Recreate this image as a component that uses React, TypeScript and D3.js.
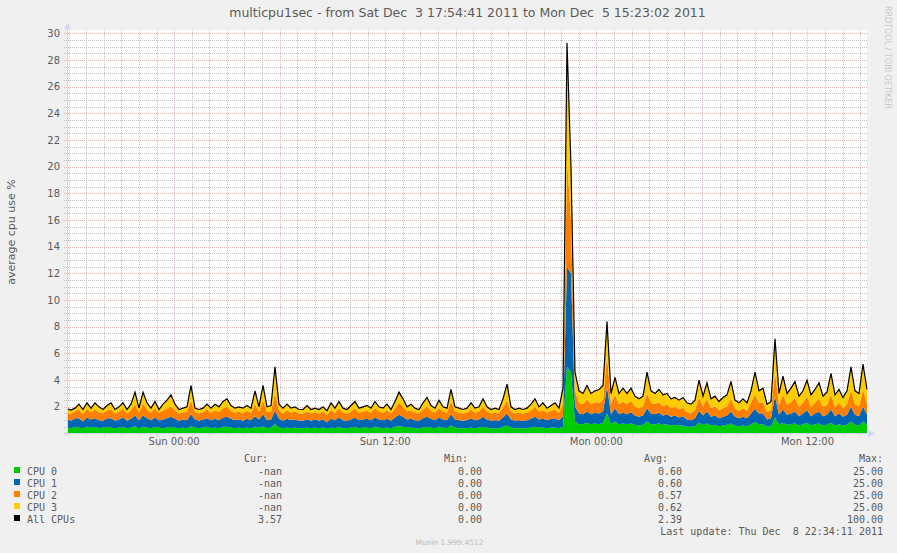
import React from 'react';
import * as d3 from 'd3';

const W = 897;
const H = 553;

const startTime = Date.UTC(2011, 11, 3, 17, 54, 41);
const endTime = Date.UTC(2011, 11, 5, 15, 23, 2);
const titleText = 'multicpu1sec - from Sat Dec  3 17:54:41 2011 to Mon Dec  5 15:23:02 2011';
const yAxisLabel = 'average cpu use %';
const watermark = 'RRDTOOL / TOBI OETIKER';
const versionText = 'Munin 1.999.4512';
const lastUpdate = 'Last update: Thu Dec  8 22:34:11 2011';

// Total ("All CPUs") line, evenly sampled over the time range
const allCpus = [
  1.85, 1.75, 1.9, 2.2, 1.8, 2.3, 1.9, 2.3, 2.0, 1.8,
  2.1, 2.3, 1.8, 2.0, 2.3, 1.8, 2.2, 3.1, 1.9, 3.1,
  2.3, 1.9, 2.4, 1.8, 2.2, 2.5, 2.9, 2.2, 1.8, 1.9,
  2.0, 3.6, 1.9, 1.8, 1.9, 2.2, 1.9, 2.2, 2.0, 2.4,
  2.6, 2.1, 1.9, 2.0, 1.9, 2.1, 1.9, 3.2, 2.0, 3.6,
  2.0, 2.1, 5.0, 2.2, 1.9, 2.2, 1.9, 2.0, 1.8, 1.8,
  2.1, 1.8, 1.9, 1.8, 2.0, 1.7, 2.3, 1.9, 2.4, 1.9,
  1.8, 2.1, 2.4, 1.9, 2.0, 2.1, 1.9, 2.4, 2.0, 1.9,
  2.2, 1.8, 2.4, 3.1, 2.6, 2.0, 2.2, 1.9, 1.8, 2.3,
  2.7, 2.1, 1.9, 2.5, 2.0, 1.9, 3.3, 2.0, 1.9, 1.8,
  1.9, 2.3, 1.9, 2.0, 2.6, 2.0, 1.8, 1.9, 1.8, 2.6,
  3.7, 2.0, 1.8, 1.9, 1.8, 1.9, 2.2, 2.6, 2.0, 2.3,
  1.9, 2.1, 2.3, 1.9, 3.4, 29.3, 20.0, 4.6, 3.2, 3.0,
  3.6, 3.0, 3.2, 3.3, 3.6, 8.4, 3.0, 4.2, 3.0, 3.4,
  3.0, 3.4, 2.8, 2.6, 2.8, 4.6, 3.2, 3.0, 3.3, 2.9,
  3.0, 2.6, 2.7, 2.5, 2.7, 2.3, 2.2, 2.5, 4.0, 2.8,
  3.8, 2.6, 2.8, 2.4, 2.7, 2.9, 3.9, 2.5, 2.3, 2.6,
  2.3, 3.2, 4.6, 3.2, 3.4, 2.2, 2.4, 7.1, 3.0, 4.3,
  3.0, 3.4, 3.9, 2.8, 3.2, 4.0, 2.9, 3.3, 3.8, 2.8,
  3.1, 4.5, 2.9, 3.3, 2.7, 3.2, 5.0, 3.2, 3.0, 5.2,
  3.3,
];

const cpu0 = [
  0.45, 0.4, 0.5, 0.45, 0.4, 0.5, 0.45, 0.5, 0.4, 0.45,
  0.5, 0.45, 0.4, 0.45, 0.5, 0.4, 0.45, 0.55, 0.4, 0.5,
  0.45, 0.4, 0.5, 0.45, 0.4, 0.45, 0.5, 0.45, 0.4, 0.45,
  0.4, 0.55, 0.45, 0.4, 0.45, 0.5, 0.4, 0.45, 0.4, 0.5,
  0.5, 0.45, 0.4, 0.45, 0.4, 0.45, 0.4, 0.5, 0.45, 0.55,
  0.4, 0.45, 0.7, 0.45, 0.4, 0.45, 0.4, 0.45, 0.4, 0.4,
  0.45, 0.4, 0.45, 0.4, 0.45, 0.35, 0.45, 0.4, 0.5, 0.4,
  0.4, 0.45, 0.5, 0.4, 0.45, 0.45, 0.4, 0.5, 0.45, 0.4,
  0.45, 0.4, 0.5, 0.55, 0.5, 0.45, 0.45, 0.4, 0.4, 0.45,
  0.5, 0.45, 0.4, 0.5, 0.45, 0.4, 0.6, 0.45, 0.4, 0.4,
  0.4, 0.45, 0.4, 0.45, 0.5, 0.45, 0.4, 0.4, 0.4, 0.5,
  0.6, 0.45, 0.4, 0.4, 0.4, 0.4, 0.45, 0.5, 0.45, 0.45,
  0.4, 0.45, 0.45, 0.4, 0.5, 5.0, 4.6, 0.9, 0.7, 0.7,
  0.8, 0.7, 0.75, 0.7, 0.8, 1.5, 0.7, 0.9, 0.7, 0.75,
  0.7, 0.75, 0.65, 0.6, 0.65, 0.9, 0.7, 0.7, 0.75, 0.65,
  0.7, 0.6, 0.65, 0.6, 0.6, 0.5, 0.5, 0.55, 0.8, 0.65,
  0.75, 0.6, 0.65, 0.55, 0.6, 0.65, 0.75, 0.6, 0.55, 0.6,
  0.55, 0.7, 0.85, 0.7, 0.7, 0.5, 0.55, 1.2, 0.65, 0.8,
  0.65, 0.7, 0.75, 0.6, 0.7, 0.8, 0.6, 0.7, 0.75, 0.6,
  0.65, 0.8, 0.6, 0.7, 0.6, 0.65, 0.9, 0.65, 0.6, 0.9,
  0.65,
];

const cpu1 = [
  0.6, 0.55, 0.65, 0.7, 0.5, 0.7, 0.6, 0.65, 0.6, 0.5,
  0.65, 0.7, 0.55, 0.6, 0.7, 0.55, 0.65, 0.8, 0.6, 0.85,
  0.7, 0.6, 0.7, 0.55, 0.65, 0.7, 0.75, 0.65, 0.55, 0.6,
  0.6, 0.9, 0.6, 0.55, 0.6, 0.65, 0.6, 0.65, 0.6, 0.7,
  0.75, 0.65, 0.6, 0.6, 0.55, 0.65, 0.6, 0.8, 0.6, 0.9,
  0.6, 0.6, 1.0, 0.65, 0.55, 0.65, 0.6, 0.6, 0.55, 0.55,
  0.6, 0.55, 0.6, 0.55, 0.6, 0.5, 0.65, 0.6, 0.7, 0.6,
  0.55, 0.6, 0.7, 0.6, 0.6, 0.65, 0.6, 0.7, 0.6, 0.6,
  0.65, 0.55, 0.7, 0.85, 0.75, 0.6, 0.65, 0.6, 0.55, 0.7,
  0.75, 0.65, 0.6, 0.7, 0.6, 0.6, 0.85, 0.6, 0.6, 0.55,
  0.6, 0.7, 0.6, 0.6, 0.75, 0.6, 0.55, 0.6, 0.55, 0.7,
  0.9, 0.6, 0.55, 0.6, 0.55, 0.6, 0.65, 0.75, 0.6, 0.65,
  0.6, 0.65, 0.7, 0.6, 0.8, 7.5, 7.4, 1.1, 0.8, 0.75,
  0.85, 0.75, 0.8, 0.8, 0.85, 2.0, 0.75, 1.0, 0.75, 0.8,
  0.75, 0.85, 0.7, 0.65, 0.7, 1.0, 0.8, 0.75, 0.8, 0.7,
  0.75, 0.65, 0.7, 0.6, 0.7, 0.55, 0.5, 0.6, 0.9, 0.7,
  0.9, 0.65, 0.7, 0.6, 0.65, 0.7, 0.9, 0.65, 0.6, 0.65,
  0.6, 0.8, 1.0, 0.8, 0.8, 0.55, 0.6, 1.6, 0.75, 1.0,
  0.75, 0.8, 0.9, 0.7, 0.8, 0.95, 0.7, 0.8, 0.9, 0.7,
  0.75, 1.0, 0.7, 0.8, 0.65, 0.75, 1.1, 0.75, 0.7, 1.1,
  0.8,
];

const cpu2 = [
  0.55, 0.5, 0.55, 0.65, 0.55, 0.65, 0.55, 0.65, 0.6, 0.55,
  0.6, 0.65, 0.55, 0.6, 0.65, 0.55, 0.65, 0.85, 0.55, 0.9,
  0.65, 0.55, 0.7, 0.55, 0.65, 0.7, 0.8, 0.65, 0.55, 0.55,
  0.6, 1.0, 0.55, 0.55, 0.55, 0.65, 0.55, 0.65, 0.6, 0.7,
  0.75, 0.6, 0.55, 0.6, 0.55, 0.6, 0.55, 0.9, 0.6, 1.0,
  0.6, 0.6, 1.3, 0.65, 0.55, 0.65, 0.55, 0.6, 0.55, 0.55,
  0.6, 0.55, 0.55, 0.55, 0.6, 0.55, 0.65, 0.55, 0.7, 0.55,
  0.55, 0.6, 0.7, 0.55, 0.6, 0.6, 0.55, 0.7, 0.6, 0.55,
  0.65, 0.55, 0.7, 0.9, 0.75, 0.6, 0.65, 0.55, 0.55, 0.65,
  0.8, 0.6, 0.55, 0.7, 0.6, 0.55, 0.95, 0.6, 0.55, 0.55,
  0.55, 0.65, 0.55, 0.6, 0.75, 0.6, 0.55, 0.55, 0.55, 0.75,
  1.0, 0.6, 0.55, 0.55, 0.55, 0.55, 0.65, 0.75, 0.6, 0.65,
  0.55, 0.6, 0.65, 0.55, 0.9, 8.0, 4.0, 1.2, 0.8, 0.75,
  0.9, 0.75, 0.8, 0.8, 0.9, 2.4, 0.75, 1.0, 0.75, 0.85,
  0.75, 0.85, 0.7, 0.65, 0.7, 1.1, 0.8, 0.75, 0.8, 0.7,
  0.75, 0.65, 0.65, 0.6, 0.65, 0.55, 0.55, 0.6, 1.0, 0.7,
  0.95, 0.65, 0.7, 0.6, 0.65, 0.7, 0.95, 0.6, 0.55, 0.65,
  0.55, 0.8, 1.1, 0.8, 0.85, 0.55, 0.6, 1.8, 0.75, 1.1,
  0.75, 0.85, 1.0, 0.7, 0.8, 1.0, 0.7, 0.8, 0.95, 0.7,
  0.75, 1.1, 0.7, 0.8, 0.65, 0.8, 1.2, 0.8, 0.75, 1.3,
  0.8,
];

const seriesNames = ['CPU 0', 'CPU 1', 'CPU 2', 'CPU 3', 'All CPUs'];
const seriesColors = ['#00CC00', '#0066B3', '#FF8000', '#FFCC00', '#000000'];
const curValues = ['-nan', '-nan', '-nan', '-nan', '3.57'];
const minValues = ['0.00', '0.00', '0.00', '0.00', '0.00'];
const avgValues = ['0.60', '0.60', '0.57', '0.62', '2.39'];
const maxValues = ['25.00', '25.00', '25.00', '25.00', '100.00'];
const legendHeaders = ['Cur:', 'Min:', 'Avg:', 'Max:'];

const FONT = '"DejaVu Sans", Verdana, sans-serif';
const MONO = '"DejaVu Sans Mono", monospace';
const TEXT = '#5a5a5a';

export default function App() {
  const left = 67;
  const right = 867;
  const top = 30;
  const bottom = 433.5;

  const x = d3.scaleUtc().domain([startTime, endTime]).range([left, right]);
  const y = d3.scaleLinear().domain([0, 30.25]).range([bottom, top]);

  const n = allCpus.length;
  const step = (endTime - startTime) / (n - 1);
  const rows = allCpus.map((v, i) => ({
    t: startTime + i * step,
    c0: cpu0[i],
    c1: cpu1[i],
    c2: cpu2[i],
    all: v,
  }));

  const stacked = d3.stack<any>().keys(['c0', 'c1', 'c2'])(rows);
  const area = d3
    .area<any>()
    .x((d) => x(d.data.t))
    .y0((d) => y(d[0]))
    .y1((d) => y(d[1]));

  const topArea = d3
    .area<any>()
    .x((d) => x(d.t))
    .y0((d) => y(d.c0 + d.c1 + d.c2))
    .y1((d) => y(Math.max(d.all, d.c0 + d.c1 + d.c2)));

  const line = d3
    .line<any>()
    .x((d) => x(d.t))
    .y((d) => y(d.all));

  const hours = d3.utcHour.every(1)!.range(new Date(startTime), new Date(endTime + 1));
  const minorV = hours.filter((h) => h.getUTCHours() % 6 !== 0);
  const majorV = hours.filter((h) => h.getUTCHours() % 6 === 0);
  const labelV = hours.filter((h) => h.getUTCHours() % 12 === 0);
  const fmt = d3.utcFormat('%a %H:%M');

  const halfSteps = d3.range(1, 61).map((k) => k * 0.5);
  const minorH = halfSteps.filter((v) => v % 2 !== 0);
  const majorH = halfSteps.filter((v) => v % 2 === 0);

  const px = (v: number) => Math.round(v) + 0.5;

  const legendX = [268, 468, 668, 883];
  const valueX = [282, 482, 682, 883];
  const valueCols = [curValues, minValues, avgValues, maxValues];

  const minorColor = '#c2c2c2';
  const majorColor = '#e9b3b3';

  return (
    <svg
      width={W}
      height={H}
      style={{ position: 'absolute', left: 0, top: 0, display: 'block' }}
    >
      <rect x={0} y={0} width={W} height={H} fill="#F0F0F0" />
      <rect x={left} y={top} width={right - left} height={bottom - top} fill="#FFFFFF" />

      {/* grid */}
      {minorH.map((v) => (
        <line
          key={'mh' + v}
          x1={left - 3}
          x2={right}
          y1={px(y(v))}
          y2={px(y(v))}
          stroke={minorColor}
          strokeWidth={1}
          strokeDasharray="1,1"
        />
      ))}
      {minorV.map((h) => (
        <line
          key={'mv' + h.getTime()}
          x1={px(x(h))}
          x2={px(x(h))}
          y1={top}
          y2={bottom + 3}
          stroke={minorColor}
          strokeWidth={1}
          strokeDasharray="1,1"
        />
      ))}
      {majorH.map((v) => (
        <line
          key={'Mh' + v}
          x1={left - 3}
          x2={right}
          y1={px(y(v))}
          y2={px(y(v))}
          stroke={majorColor}
          strokeWidth={1}
          strokeDasharray="1,1"
        />
      ))}
      {majorV.map((h) => (
        <line
          key={'Mv' + h.getTime()}
          x1={px(x(h))}
          x2={px(x(h))}
          y1={top}
          y2={bottom + 3}
          stroke={majorColor}
          strokeWidth={1}
          strokeDasharray="1,1"
        />
      ))}

      {/* data */}
      {stacked.map((s, i) => (
        <path key={'a' + i} d={area(s as any) || ''} fill={seriesColors[i]} />
      ))}
      <path d={topArea(rows) || ''} fill={seriesColors[3]} />
      <path d={line(rows) || ''} fill="none" stroke="#000" strokeWidth={1.2} strokeLinejoin="miter" />

      {/* axes */}
      <line x1={left + 0.5} x2={left + 0.5} y1={bottom + 2} y2={top - 2} stroke="#CFD6F8" strokeWidth={1} />
      <path d={`M${left - 3},${top - 1} L${left + 4},${top - 1} L${left + 0.5},${top - 7} Z`} fill="#CFD6F8" />
      <line x1={left - 3} x2={right + 3} y1={bottom} y2={bottom} stroke="#CFD6F8" strokeWidth={1} />
      <path d={`M${right + 1},${bottom - 3.5} L${right + 1},${bottom + 3.5} L${right + 8},${bottom} Z`} fill="#CFD6F8" />

      {/* y tick labels */}
      {majorH.map((v) => (
        <text
          key={'yl' + v}
          x={60}
          y={y(v)}
          dy="0.36em"
          textAnchor="end"
          fontFamily={FONT}
          fontSize={10}
          fill={TEXT}
        >
          {v}
        </text>
      ))}

      {/* x tick labels */}
      {labelV.map((h) => (
        <text
          key={'xl' + h.getTime()}
          x={x(h)}
          y={445}
          textAnchor="middle"
          fontFamily={FONT}
          fontSize={10}
          fill={TEXT}
        >
          {fmt(h)}
        </text>
      ))}

      {/* title */}
      <text
        x={467.5}
        y={17}
        textAnchor="middle"
        fontFamily={FONT}
        fontSize={12.5}
        fill={TEXT}
        style={{ whiteSpace: 'pre' }}
      >
        {titleText}
      </text>

      {/* y axis label */}
      <text
        transform="translate(15,232) rotate(-90)"
        textAnchor="middle"
        fontFamily={FONT}
        fontSize={11}
        fill={TEXT}
      >
        {yAxisLabel}
      </text>

      {/* watermark */}
      <text
        transform="translate(885,6) rotate(90)"
        textAnchor="start"
        fontFamily={FONT}
        fontSize={8}
        fill="#c8c8c8"
      >
        {watermark}
      </text>

      {/* legend */}
      {legendHeaders.map((hd, i) => (
        <text
          key={'lh' + i}
          x={legendX[i]}
          y={462}
          textAnchor="end"
          fontFamily={MONO}
          fontSize={10}
          fill={TEXT}
        >
          {hd}
        </text>
      ))}
      {seriesNames.map((name, r) => (
        <g key={'lr' + r}>
          <rect x={14} y={467 + r * 12} width={6} height={6} fill={seriesColors[r]} />
          <text
            x={27}
            y={474.5 + r * 12}
            fontFamily={MONO}
            fontSize={10}
            fill={TEXT}
            style={{ whiteSpace: 'pre' }}
          >
            {name}
          </text>
          {valueCols.map((col, c) => (
            <text
              key={'v' + c}
              x={valueX[c]}
              y={474.5 + r * 12}
              textAnchor="end"
              fontFamily={MONO}
              fontSize={10}
              fill={TEXT}
            >
              {col[r]}
            </text>
          ))}
        </g>
      ))}
      <text
        x={883}
        y={534.5}
        textAnchor="end"
        fontFamily={MONO}
        fontSize={10}
        fill={TEXT}
        style={{ whiteSpace: 'pre' }}
      >
        {lastUpdate}
      </text>
      <text
        x={449.5}
        y={545}
        textAnchor="middle"
        fontFamily={FONT}
        fontSize={7.5}
        fill="#bbbbbb"
      >
        {versionText}
      </text>
    </svg>
  );
}
